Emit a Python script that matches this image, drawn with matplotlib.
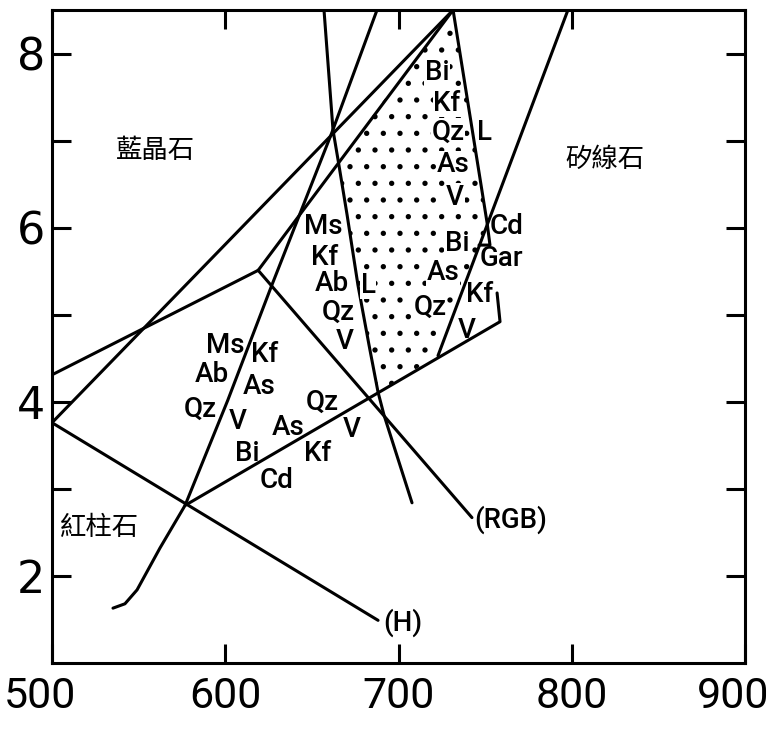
import matplotlib
matplotlib.use('Agg')
import matplotlib.pyplot as plt
import matplotlib.transforms as mtransforms

plt.rcParams['font.family'] = ['Roboto', 'DejaVu Sans']
plt.rcParams['hatch.linewidth'] = 1.4

# Data (T in degC, P in kbar)
x_ticks = [500, 600, 700, 800, 900]
y_major = [2, 4, 6, 8]
y_minor = [3, 5, 7]

# Al2SiO5 triple point and boundaries, Holdaway (H)
h_kysil_T = [500, 731.5]
h_kysil_P = [3.76, 8.5]
h_andsil_T = [500, 688.2]
h_andsil_P = [3.76, 1.49]

# Al2SiO5 boundaries, Richardson-Gilbert-Bell (RGB)
rgb_kysil_T = [619, 731.5]
rgb_kysil_P = [5.51, 8.5]
rgb_andsil_T = [619, 742.4]
rgb_andsil_P = [5.51, 2.67]
rgb_kyand_T = [619, 500]
rgb_kyand_P = [5.51, 4.31]

# Ms + Ab + Qz + V = Kf + As + V
ms_T = [535.2, 542.1, 549.1, 562.3, 576.8, 601.5, 626.5, 661.5, 687.6]
ms_P = [1.63, 1.68, 1.84, 2.32, 2.81, 4.02, 5.32, 7.09, 8.5]

# granite solidus (L)
sol_T = [657.0, 662.2, 665.1, 670.3, 676.6, 683.0, 688.2, 691.6, 698.0, 707.8]
sol_P = [8.50, 7.12, 6.78, 6.15, 5.34, 4.65, 4.11, 3.85, 3.45, 2.84]

# Bi + As + Qz = Cd + Kf + V
cd_T = [576.8, 758.6, 756.9]
cd_P = [2.81, 4.92, 5.25]

# Cd / Gar line
gar_T = [797.8, 722.8]
gar_P = [8.5, 4.53]

# melting of Bi (right edge of the stippled field)
bi_T = [731.5, 751.1, 752.8, 746.5]
bi_P = [8.5, 6.06, 5.80, 5.80]

# stippled field outline
field_T = [731.5, 751.1, 722.8, 688.2, 683.0, 676.6, 670.3, 665.1]
field_P = [8.5, 6.06, 4.53, 4.11, 4.65, 5.34, 6.15, 6.78]

fig = plt.figure(figsize=(7.72, 7.32), dpi=100)
ax = fig.add_axes([52 / 772, 69 / 732, 693 / 772, 653 / 732])

lw = 2.2
ax.fill(field_T, field_P, facecolor='none', edgecolor='black', hatch='.', linewidth=0)

for T, P in [(h_kysil_T, h_kysil_P), (h_andsil_T, h_andsil_P),
             (rgb_kysil_T, rgb_kysil_P), (rgb_andsil_T, rgb_andsil_P),
             (rgb_kyand_T, rgb_kyand_P), (ms_T, ms_P), (sol_T, sol_P),
             (cd_T, cd_P), (gar_T, gar_P), (bi_T, bi_P)]:
    ax.plot(T, P, color='black', linewidth=lw, solid_capstyle='round',
            solid_joinstyle='round')

# Chinese mineral names
cjk = ['Noto Sans CJK TC', 'DejaVu Sans']
ax.text(559.5, 6.89, '藍晶石', fontsize=19, family=cjk, ha='center', va='center')
ax.text(819.2, 6.78, '矽線石', fontsize=19, family=cjk, ha='center', va='center')
ax.text(527.7, 2.56, '紅柱石', fontsize=19, family=cjk, ha='center', va='center')

# phase labels; those inside the stippled field get a white backing
in_field = [
    ('Bi', 722.2, 7.78), ('Kf', 728.0, 7.43), ('Qz', 728.6, 7.09),
    ('As', 731.5, 6.72), ('V', 732.6, 6.35), ('Bi', 733.8, 5.82),
    ('As', 725.7, 5.48), ('Qz', 718.2, 5.08), ('L', 682.4, 5.34),
]
outside = [
    ('L', 749.9, 7.09), ('Cd', 762.6, 6.01), ('Gar', 759.7, 5.65),
    ('Kf', 747.0, 5.23), ('V', 739.5, 4.82),
    ('Ms', 656.4, 6.01), ('Kf', 657.6, 5.66), ('Ab', 661.6, 5.36),
    ('Qz', 665.1, 5.03), ('V', 669.1, 4.69),
    ('Ms', 599.9, 4.65), ('Kf', 622.9, 4.54), ('Ab', 592.4, 4.31), ('As', 619.5, 4.17),
    ('Qz', 585.4, 3.91), ('V', 607.4, 3.77), ('Qz', 655.8, 3.99), ('As', 636.2, 3.71),
    ('V', 673.2, 3.68), ('Bi', 612.6, 3.41), ('Kf', 653.5, 3.41), ('Cd', 629.9, 3.10),
]
for s, T, P in in_field:
    ax.text(T, P, s, fontsize=20, fontweight='medium', ha='center', va='center',
            bbox=dict(facecolor='white', edgecolor='none', pad=0.5))
for s, T, P in outside:
    ax.text(T, P, s, fontsize=20, fontweight='medium', ha='center', va='center')

ax.text(744, 2.65, '(RGB)', fontsize=20, fontweight='medium', ha='left', va='center')
ax.text(691, 1.46, '(H)', fontsize=20, fontweight='medium', ha='left', va='center')

ax.set_xlim(500, 900)
ax.set_ylim(1, 8.5)
ax.set_xticks(x_ticks)
ax.set_xticklabels([str(v) for v in x_ticks], fontsize=31)
ax.set_yticks(y_major)
ax.set_yticklabels([str(v) for v in y_major], fontsize=32, family='DejaVu Sans')
ax.set_yticks(y_minor, minor=True)
ax.tick_params(which='both', direction='in', length=14, width=2.2,
               top=True, right=True)
ax.tick_params(axis='x', pad=9)
ax.tick_params(axis='y', pad=5)
for sp in ax.spines.values():
    sp.set_linewidth(2.2)

# the end labels sit a little inside the corner ticks, as in the original
xl = ax.get_xticklabels()
xl[0].set_transform(xl[0].get_transform() +
                    mtransforms.ScaledTranslation(-0.12, 0, fig.dpi_scale_trans))
xl[-1].set_transform(xl[-1].get_transform() +
                     mtransforms.ScaledTranslation(-0.12, 0, fig.dpi_scale_trans))

fig.savefig('out.png', dpi=100)
